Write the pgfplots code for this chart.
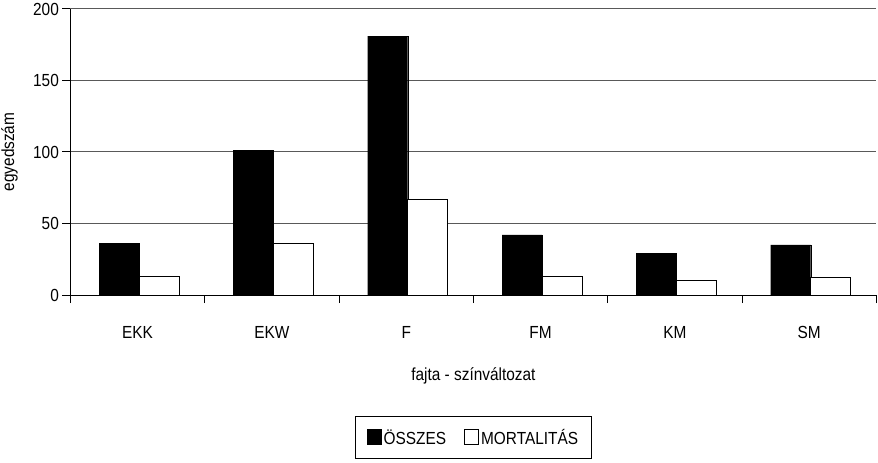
\documentclass[border=0pt]{standalone}
\usepackage{pgfplots}
\pgfplotsset{compat=1.18}
\usepackage{fontspec}
\setmainfont{Liberation Sans}[FakeStretch=0.88]
\begin{document}
\begin{tikzpicture}
\begin{axis}[
  name=ax,
  scale only axis, width=806pt, height=286pt,
  xmin=-0.5, xmax=5.5, ymin=0, ymax=200,
  ytick={0,50,...,200},
  xtick={-0.5,0.5,...,5.5}, xticklabels={},
  extra x ticks={0,1,2,3,4,5},
  extra x tick labels={EKK,EKW,F,FM,KM,SM},
  extra x tick style={major tick length=0pt, xticklabel style={yshift=-28pt}},
  axis x line=bottom, axis y line=left,
  axis line style={-, line width=1pt, black},
  tick align=outside, major tick length=8pt,
  tick style={black, line width=1pt},
  ymajorgrids, grid style={black!65, line width=1pt},
  /pgf/number format/assume math mode=true,
  tick label style={font=\fontsize{17.5}{20}\selectfont},
  label style={font=\fontsize{17.5}{20}\selectfont},
  xlabel={fajta - színváltozat},
  xlabel style={at={(axis description cs:0.5,-0.283)}, anchor=center},
  ylabel={egyedszám},
  ylabel style={at={(axis description cs:-0.0755,0.5)}, anchor=center},
  legend columns=2,
  legend style={at={(axis description cs:0.5,-0.498)}, anchor=center,
    draw=black, line width=1pt, font=\fontsize{17.5}{20}\selectfont,
    inner xsep=11pt, inner ysep=11pt,
    /tikz/every even column/.append style={column sep=16pt}},
  legend image code/.code={\draw[#1, line width=1pt] (0pt,-7.5pt) rectangle (14pt,7.5pt);},
]
\addplot[ybar, bar width=40pt, bar shift=-18.5pt, fill=black, draw=black] coordinates {
  (0,36) (1,101) (2,181) (3,42) (4,29) (5,35)};
\addplot[ybar, bar width=40pt, bar shift=21.5pt, fill=white, draw=black, line width=1pt] coordinates {
  (0,13) (1,36) (2,67) (3,13) (4,10) (5,12)};
\legend{ÖSSZES, MORTALITÁS}
\end{axis}
\pgfresetboundingbox
\path[use as bounding box] ([xshift=-70.4pt,yshift=-167pt]ax.south west) rectangle ([xshift=1.6pt,yshift=9pt]ax.north east);
\end{tikzpicture}
\end{document}
